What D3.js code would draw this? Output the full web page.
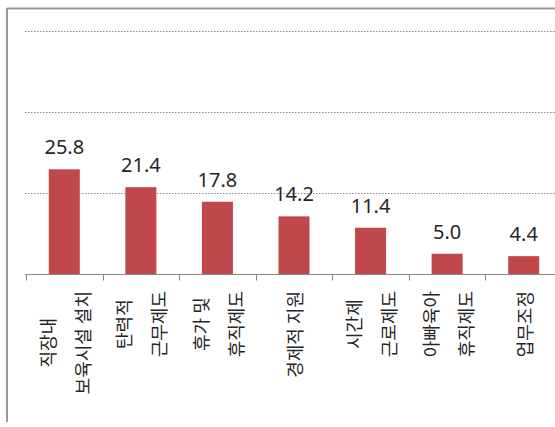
<!DOCTYPE html>
<html>
<head>
<meta charset="utf-8">
<script src="https://cdn.jsdelivr.net/npm/d3@7"></script>
<style>
  html, body { margin: 0; padding: 0; background: #fff; }
  svg { display: block; }
</style>
</head>
<body>
<svg id="chart" width="555" height="427"></svg>
<script>
// ---- data ----
const categories = ["직장내 보육시설 설치", "탄력적 근무제도", "휴가 및 휴직제도", "경제적 지원", "시간제 근로제도", "아빠육아 휴직제도", "업무조정"];
const categoryLines = [
  ["직장내", "보육시설 설치"],
  ["탄력적", "근무제도"],
  ["휴가 및", "휴직제도"],
  ["경제적 지원"],
  ["시간제", "근로제도"],
  ["아빠육아", "휴직제도"],
  ["업무조정"]
];
const values = [25.8, 21.4, 17.8, 14.2, 11.4, 5.0, 4.4];
const gridValues = [20, 40, 60];

// ---- layout ----
const W = 555, H = 427;
const svg = d3.select("#chart");

const x = d3.scaleBand().domain(categories).range([26, 562]).padding(0);
const y = d3.scaleLinear().domain([0, 60]).range([274, 30.5]);
const barW = x.bandwidth() * 0.405;

// frame border (chart area outline, partially cropped)
svg.append("line").attr("x1", 7).attr("x2", W + 5).attr("y1", 8.5).attr("y2", 8.5)
  .attr("stroke", "#9a9a9a").attr("stroke-width", 2);
svg.append("line").attr("x1", 7).attr("x2", 7).attr("y1", 8).attr("y2", 422)
  .attr("stroke", "#9a9a9a").attr("stroke-width", 2);

// gridlines
svg.append("g").selectAll("line").data(gridValues).join("line")
  .attr("x1", 25).attr("x2", W + 10)
  .attr("y1", d => Math.round(y(d)) + 0.5).attr("y2", d => Math.round(y(d)) + 0.5)
  .attr("stroke", "#8c8c8c").attr("stroke-width", 1)
  .attr("stroke-dasharray", "1.5,1.5");

// bars
svg.append("g").selectAll("rect").data(values).join("rect")
  .attr("x", (d, i) => x(categories[i]) + (x.bandwidth() - barW) / 2)
  .attr("y", d => y(d))
  .attr("width", barW)
  .attr("height", d => y(0) - y(d))
  .attr("fill", "#c0474a");

// x axis baseline with boundary ticks
const axisY = Math.round(y(0)) + 0.5;
svg.append("line").attr("x1", 25).attr("x2", W + 10).attr("y1", axisY).attr("y2", axisY)
  .attr("stroke", "#8a8a8a").attr("stroke-width", 1);
const boundaries = categories.map(c => x(c)).concat([x.range()[1]]);
svg.append("g").selectAll("line").data(boundaries).join("line")
  .attr("x1", d => Math.round(d) + 0.5).attr("x2", d => Math.round(d) + 0.5)
  .attr("y1", axisY).attr("y2", axisY + 6)
  .attr("stroke", "#8a8a8a").attr("stroke-width", 1);

// value labels
svg.append("g").selectAll("text").data(values).join("text")
  .attr("x", (d, i) => x(categories[i]) + x.bandwidth() / 2)
  .attr("y", d => y(d) - 15)
  .attr("text-anchor", "middle")
  .attr("font-family", "'Noto Sans', 'Noto Sans CJK KR', sans-serif")
  .attr("font-size", 20)
  .attr("fill", "#262626")
  .text(d => d.toFixed(1));

// category labels (rotated -90, lines as columns, centered)
const labelG = svg.append("g");
const fontSize = 18, lineGap = 35, topY = 291;
categoryLines.forEach((lines, i) => {
  const cx = x(categories[i]) + x.bandwidth() / 2;
  const n = lines.length;
  const texts = lines.map((ln, j) => {
    const colX = cx + (j - (n - 1) / 2) * lineGap;
    return labelG.append("text")
      .attr("text-anchor", "middle")
      .attr("dominant-baseline", "central")
      .attr("font-family", "'Noto Sans CJK KR', sans-serif")
      .attr("font-size", fontSize)
      .attr("fill", "#262626")
      .attr("data-x", colX)
      .text(ln);
  });
  const maxLen = d3.max(texts, t => t.node().getComputedTextLength());
  const cy = topY + maxLen / 2;
  texts.forEach(t => {
    const colX = +t.attr("data-x");
    t.attr("transform", `translate(${colX},${cy}) rotate(-90)`);
  });
});
</script>
</body>
</html>
